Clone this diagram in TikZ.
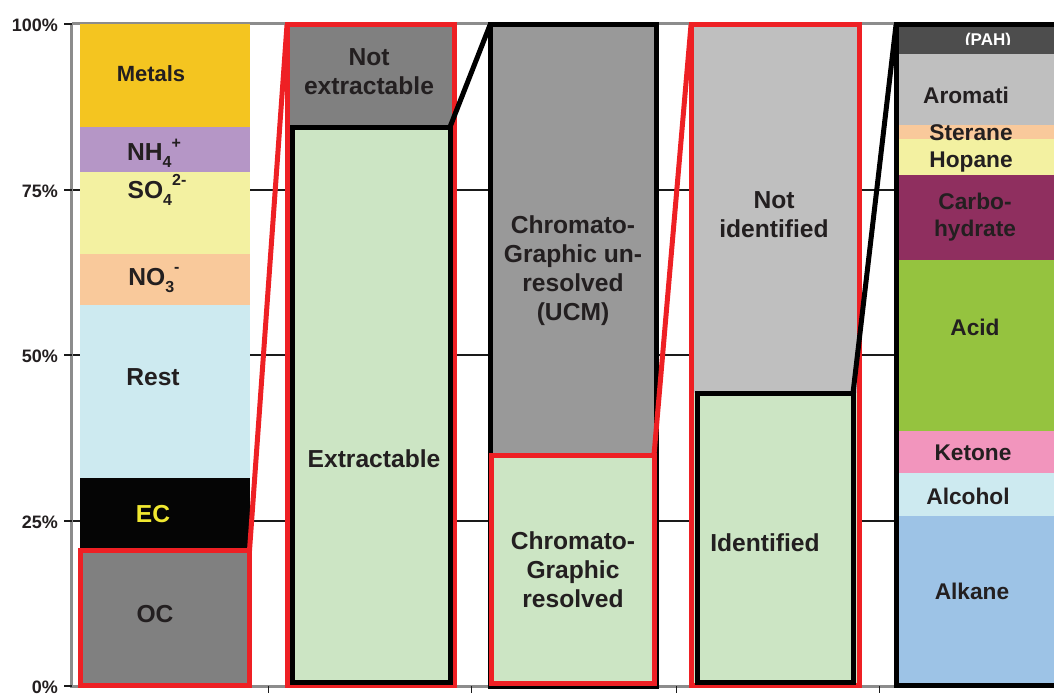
\documentclass[tikz,border=0pt]{standalone}
\usepackage{fontspec}
\setmainfont{Liberation Sans}
\definecolor{txt}{HTML}{231F20}
\definecolor{axgray}{HTML}{8C8C8C}
\definecolor{gridc}{HTML}{1A1A1A}
\definecolor{redl}{HTML}{EE2024}
\definecolor{metals}{HTML}{F4C520}
\definecolor{nh}{HTML}{B596C6}
\definecolor{so}{HTML}{F3F1A1}
\definecolor{no}{HTML}{F9C99B}
\definecolor{rest}{HTML}{CDEAF0}
\definecolor{ecc}{HTML}{050505}
\definecolor{ectxt}{HTML}{F0E830}
\definecolor{occ}{HTML}{808080}
\definecolor{grn}{HTML}{CCE5C4}
\definecolor{ucm}{HTML}{999999}
\definecolor{lgray}{HTML}{BFBFBF}
\definecolor{pah}{HTML}{4D4D4D}
\definecolor{carb}{HTML}{8F2F5F}
\definecolor{acid}{HTML}{95C33F}
\definecolor{ket}{HTML}{F295BD}
\definecolor{alk}{HTML}{9DC3E6}
\newcommand{\sbx}[1]{\raisebox{-0.28em}{\fontsize{16}{16}\selectfont #1}}
\newcommand{\spx}[1]{\raisebox{0.5em}{\fontsize{16}{16}\selectfont #1}}
\begin{document}
\begin{tikzpicture}[x=1pt,y=-1pt,
  lbl/.style={font=\bfseries\fontsize{24.6}{29}\selectfont, text=txt, align=center, inner sep=0pt},
  lblb/.style={font=\bfseries\fontsize{22.7}{27}\selectfont, text=txt, align=center, inner sep=0pt},
  ticklbl/.style={font=\bfseries\fontsize{18}{20}\selectfont, text=txt, anchor=east, inner sep=0pt},
  redbox/.style={draw=redl, line width=5pt},
  blkbox/.style={draw=black, line width=5pt},
  redlink/.style={draw=redl, line width=5pt},
  blklink/.style={draw=black, line width=5pt}]
\useasboundingbox (0,0) rectangle (1054,693);
\clip (0,0) rectangle (1054,693);
% grid
\foreach \yy in {190,355,521} \draw[gridc, line width=1.2pt] (72,\yy) -- (1054,\yy);
\draw[axgray, line width=3pt] (72,24) -- (1054,24);
% axes
\draw[axgray, line width=3pt] (71,23) -- (71,687);
\draw[axgray, line width=3pt] (70,686) -- (1054,686);
\foreach \yy in {24,190,355,521,686} \draw[gridc, line width=1.2pt] (64,\yy) -- (72,\yy);
\foreach \xx in {268,471,676,879} \draw[gridc, line width=1pt] (\xx,686) -- (\xx,693);
\node[ticklbl] (t100) at (58,25) {100\%};
\node[ticklbl] (t75) at (58,191) {75\%};
\node[ticklbl] (t50) at (58,356) {50\%};
\node[ticklbl] (t25) at (58,522) {25\%};
\node[ticklbl] (t0) at (58,687) {0\%};
% ---- bar 1
\fill[metals] (80,24) rectangle (250,127);
\fill[nh] (80,127) rectangle (250,172);
\fill[so] (80,172) rectangle (250,254);
\fill[no] (80,254) rectangle (250,305);
\fill[rest] (80,305) rectangle (250,478);
\fill[ecc] (80,478) rectangle (250,550);
\fill[occ] (80,550) rectangle (250,686);
\draw[redbox] (80.5,550.5) rectangle (249.5,685.5);
\coordinate (ocTR) at (249.5,550.5);
\node[lbl, font=\bfseries\fontsize{22}{26}\selectfont] (metals) at (151,74) {Metals};
\node[lbl] (nh4) at (154,153) {NH\sbx{4}\spx{+}};
\node[lbl] (so4) at (157,190) {SO\sbx{4}\spx{2-}};
\node[lbl] (no3) at (154,280) {NO\sbx{3}\spx{-}};
\node[lbl] (rest) at (153,377) {Rest};
\node[lbl, text=ectxt] (ec) at (153,514) {EC};
\node[lbl] (oc) at (155,614) {OC};
% ---- bar 2
\fill[occ] (287,25) rectangle (454,127);
\fill[grn] (290,127) rectangle (452,684);
\draw[redbox] (287,25) rectangle (454,685);
\draw[blkbox] (292,127) rectangle (450,682);
\coordinate (b2TL) at (287,25);
\coordinate (exTR) at (450,127);
\node[lbl] (notext) at (369,72) {Not\\extractable};
\node[lbl] (extr) at (374,459) {Extractable};
% ---- bar 3
\fill[ucm] (490,25) rectangle (656,455);
\fill[grn] (490,455) rectangle (656,684);
\draw[blkbox] (490,25) rectangle (656,686);
\draw[redbox] (491,455) rectangle (654,683);
\coordinate (b3TL) at (490,25);
\coordinate (resTR) at (654,455);
\node[lbl] (ucmt) at (573,271) {Chromato-\\Graphic un-\\resolved\\(UCM)};
\node[lbl] (rest3) at (573,570) {Chromato-\\Graphic\\resolved};
% ---- bar 4
\fill[lgray] (691,25) rectangle (859,393);
\fill[grn] (691,393) rectangle (859,684);
\draw[redbox] (691,25) rectangle (859,685);
\draw[blkbox] (697,393) rectangle (853,682);
\coordinate (b4TL) at (691,25);
\coordinate (idTR) at (853,393);
\node[lbl] (notid) at (774,215) {Not\\identified};
\node[lbl] (ident) at (765,543) {Identified};
% ---- bar 5
\fill[pah] (896,25) rectangle (1060,54);
\fill[lgray] (896,54) rectangle (1060,125);
\fill[no] (896,125) rectangle (1060,139);
\fill[so] (896,139) rectangle (1060,175);
\fill[carb] (896,175) rectangle (1060,260);
\fill[acid] (896,260) rectangle (1060,431);
\fill[ket] (896,431) rectangle (1060,473);
\fill[rest] (896,473) rectangle (1060,516);
\fill[alk] (896,516) rectangle (1060,686);
\draw[blkbox] (896,25) rectangle (1070,685);
\coordinate (b5TL) at (896,25);
\begin{scope}
\clip (896,20) rectangle (1054,45);
\node[font=\bfseries\fontsize{17}{18}\selectfont, text=white, anchor=base, inner sep=0pt] (pahl) at (988,46) {(PAH)};
\end{scope}
\node[lblb] (arom) at (966,95) {Aromati};
\node[lblb] (ster) at (971,133) {Sterane};
\node[lblb] (hop) at (971,162) {Hopane};
\node[lblb] (carbl) at (975,217) {Carbo-\\hydrate};
\node[lblb] (acidl) at (975,327) {Acid};
\node[lblb] (ketl) at (973,453) {Ketone};
\node[lblb] (alcl) at (968,496) {Alcohol};
\node[lblb] (alkl) at (972,591) {Alkane};
% ---- zoom links
\draw[redlink] (ocTR) -- (b2TL);
\draw[blklink] (exTR) -- (b3TL);
\draw[redlink] (resTR) -- (b4TL);
\draw[blklink] (idTR) -- (b5TL);
\end{tikzpicture}
\end{document}
